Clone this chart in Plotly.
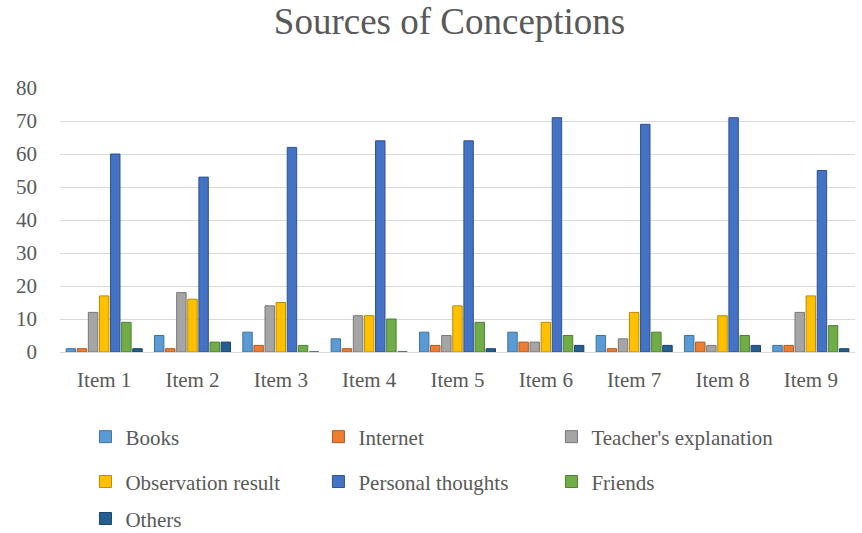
import plotly.graph_objects as go

categories = ["Item 1", "Item 2", "Item 3", "Item 4", "Item 5", "Item 6", "Item 7", "Item 8", "Item 9"]
books = [1, 5, 6, 4, 6, 6, 5, 5, 2]
internet = [1, 1, 2, 1, 2, 3, 1, 3, 2]
teacher = [12, 18, 14, 11, 5, 3, 4, 2, 12]
observation = [17, 16, 15, 11, 14, 9, 12, 11, 17]
personal = [60, 53, 62, 64, 64, 71, 69, 71, 55]
friends = [9, 3, 2, 10, 9, 5, 6, 5, 8]
others = [1, 3, 0, 0, 1, 2, 2, 2, 1]

series = [
    ("Books", books, "#5B9BD5", "#41719C", "legend"),
    ("Internet", internet, "#ED7D31", "#AE5A21", "legend"),
    ("Teacher's explanation", teacher, "#A5A5A5", "#787878", "legend"),
    ("Observation result", observation, "#FFC000", "#BC8C00", "legend2"),
    ("Personal thoughts", personal, "#4472C4", "#2F528F", "legend2"),
    ("Friends", friends, "#70AD47", "#507E32", "legend2"),
    ("Others", others, "#255E91", "#1A4469", "legend3"),
]

fig = go.Figure()
for name, vals, col, edge, lg in series:
    fig.add_trace(go.Bar(
        x=categories, y=vals, name=name, legend=lg,
        marker=dict(color=col, line=dict(color=edge, width=1)),
    ))

font_family = "Liberation Serif, Times New Roman, serif"
legend_common = dict(orientation="h", x=0.032, xanchor="left", yanchor="middle",
                     entrywidth=188, entrywidthmode="pixels", font=dict(size=21),
                     itemwidth=30, bgcolor="rgba(0,0,0,0)", borderwidth=0)
fig.update_layout(
    width=862, height=533,
    barmode="group",
    bargap=0.12, bargroupgap=0.15,
    paper_bgcolor="white", plot_bgcolor="white",
    font=dict(family=font_family, color="#595959", size=21),
    title=dict(text="Sources of Conceptions", x=0.49, xref="paper", xanchor="center",
               y=0.96, yanchor="middle",
               font=dict(family=font_family, size=37, color="#595959")),
    margin=dict(l=60, r=7, t=88, b=181, autoexpand=False),
    xaxis=dict(showgrid=False, showline=True, linecolor="#D9D9D9", linewidth=1,
               ticks="", tickfont=dict(size=21), ticklabelstandoff=9),
    yaxis=dict(range=[0, 80], dtick=10, showgrid=True, gridcolor="#D9D9D9", gridwidth=1.3,
               zeroline=False, showline=False, ticks="", tickfont=dict(size=21),
               ticklabelstandoff=22),
    legend=dict(y=-0.322, **legend_common),
    legend2=dict(y=-0.492, **legend_common),
    legend3=dict(y=-0.632, **legend_common),
    showlegend=True,
)
fig.write_html("out.html", config={"displayModeBar": False},
               post_script="document.body.style.margin='0';document.body.style.padding='0';")
